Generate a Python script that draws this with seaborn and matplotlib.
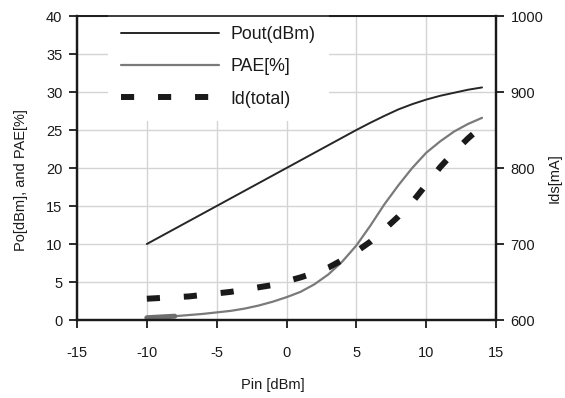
import numpy as np
import pandas as pd
import matplotlib
matplotlib.use("Agg")
import matplotlib.pyplot as plt
import seaborn as sns

# ---- data ----
pin = [-10, -9, -8, -7, -6, -5, -4, -3, -2, -1, 0, 1, 2, 3, 4, 5, 6, 7, 8, 9, 10, 11, 12, 13, 14]
pout = [10, 11, 12, 13, 14, 15, 16, 17, 18, 19, 20, 21, 22, 23, 24, 25, 25.95, 26.85, 27.7, 28.4, 29.0, 29.5, 29.9, 30.3, 30.6]
pae = [0.3, 0.4, 0.5, 0.65, 0.8, 1.0, 1.2, 1.5, 1.9, 2.4, 3.0, 3.7, 4.7, 6.0, 7.7, 9.8, 12.4, 15.2, 17.7, 20.0, 22.0, 23.5, 24.8, 25.8, 26.6]
id_total = [628, 629, 630, 631, 633, 635, 637, 640, 643, 646, 651, 656, 662, 669, 679, 690, 703, 719, 736, 755, 778, 801, 821, 839, 855]

x_ticks = [-15, -10, -5, 0, 5, 10, 15]
left_ticks = [0, 5, 10, 15, 20, 25, 30, 35, 40]
right_ticks = [600, 700, 800, 900, 1000]

df = pd.DataFrame({"pin": pin, "pout": pout, "pae": pae, "id": id_total})

sns.set_theme(style="ticks")
plt.rcParams["font.family"] = ["Liberation Sans", "DejaVu Sans"]
plt.rcParams["axes.unicode_minus"] = False

W, H = 565, 398
fig = plt.figure(figsize=(W / 100, H / 100), dpi=100)
ax1 = fig.add_axes([77 / W, 1 - 320 / H, 419 / W, 304 / H])
ax2 = ax1.twinx()

ink = "#1a1a1a"

sns.lineplot(data=df, x="pin", y="pout", ax=ax1, color="#262626", linewidth=1.4,
             label="Pout(dBm)", legend=False)
sns.lineplot(data=df, x="pin", y="pae", ax=ax1, color="#7a7a7a", linewidth=1.6,
             label="PAE[%]", legend=False)
sns.lineplot(data=df[df["pin"] <= -8], x="pin", y="pae", ax=ax1, color="#6e6e6e",
             linewidth=3.6, solid_capstyle="round", label="_nolegend_", legend=False)
sns.lineplot(data=df, x="pin", y="id", ax=ax2, color=ink, linewidth=4.3,
             dashes=False, label="Id(total)", legend=False)
idline = ax2.get_lines()[-1]
idline.set_dashes((2.2, 4.0))
idline.set_dash_capstyle("butt")

for a in (ax1, ax2):
    if a.get_legend() is not None:
        a.get_legend().remove()

ax1.set_xlim(-15, 15)
ax1.set_ylim(0, 40)
ax2.set_ylim(600, 1000)
ax1.set_xticks(x_ticks)
ax1.set_yticks(left_ticks)
ax2.set_yticks(right_ticks)

ax1.grid(True, color="#d4d4d4", linewidth=1.0)
ax2.grid(False)

ax1.tick_params(axis="x", direction="out", length=6, width=1.3, pad=12.5,
                labelsize=10.5, colors=ink)
ax1.tick_params(axis="y", direction="out", length=6, width=1.3, pad=4.5,
                labelsize=10.5, colors=ink)
ax2.tick_params(axis="y", direction="out", length=6, width=1.3, pad=4.5,
                labelsize=10.5, colors=ink)

for a in (ax1, ax2):
    for name, sp in a.spines.items():
        sp.set_visible(True)
        sp.set_color(ink)
        sp.set_linewidth(1.2 if name == "top" else 1.6)
for sp in ax2.spines.values():
    sp.set_zorder(6)

ax1.set_xlabel("Pin [dBm]", fontsize=10.5, color=ink)
ax1.set_ylabel("Po[dBm], and PAE[%]", fontsize=10.5, color=ink)
ax2.set_ylabel("Ids[mA]", fontsize=10.5, color=ink)
ax1.xaxis.set_label_coords((273 - 77) / 419, -(378 - 320) / 304)
ax1.xaxis.label.set_verticalalignment("top")
ax1.yaxis.set_label_coords(-(77 - 28) / 419, (320 - 180) / 304)
ax2.yaxis.set_label_coords((548 - 77) / 419, (320 - 178) / 304)

h1, l1 = ax1.get_legend_handles_labels()
h2, l2 = ax2.get_legend_handles_labels()
leg = ax2.legend(h1 + h2, l1 + l2, loc="upper left",
                 bbox_to_anchor=((108 - 77) / 419, 1 + 3 / 304),
                 borderaxespad=0, fontsize=12.8, handlelength=5.5,
                 handletextpad=0.65, labelspacing=0.85, borderpad=0.75,
                 frameon=True, fancybox=False, framealpha=1.0,
                 facecolor="white", edgecolor="none")
for t in leg.get_texts():
    t.set_color(ink)

fig.savefig("out.png", dpi=100)
